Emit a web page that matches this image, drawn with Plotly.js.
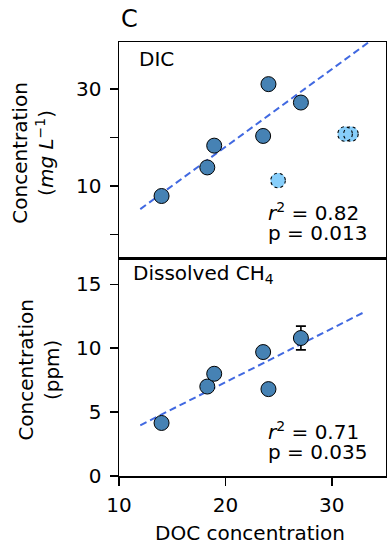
<!DOCTYPE html>
<html>
<head>
<meta charset="utf-8">
<script src="https://cdn.plot.ly/plotly-3.0.1.min.js"></script>
<style>html,body{margin:0;padding:0;background:#fff}#chart{width:387px;height:544px}</style>
</head>
<body>
<div id="chart"></div>
<script>
// DIC panel (included points)
var docDIC = [14.0, 18.3, 18.95, 23.55, 24.05, 27.1];
var dicValues = [7.9, 13.8, 18.3, 20.3, 31.0, 27.2];
// DIC panel (excluded points, light blue with dashed edge)
var docDICExcl = [24.95, 31.25, 31.8];
var dicExcl = [11.1, 20.7, 20.7];
// DIC trend line
var dicFitX = [12, 34];
var dicFitY = [5.2, 40.5];

// Dissolved CH4 panel
var docCH4 = [14.0, 18.3, 18.95, 23.55, 24.05, 27.1];
var ch4Values = [4.15, 7.0, 8.0, 9.7, 6.8, 10.8];
var ch4Err = [null, null, null, null, null, 0.93];
var ch4FitX = [12, 33];
var ch4FitY = [3.97, 12.8];

var xTicks = [10, 20, 30];
var dicLabelledTicks = [10, 30];
var dicUnlabelledTicks = [0, 20];
var ch4Ticks = [0, 5, 10, 15];

var FONT = 'DejaVu Sans, sans-serif';
var darkBlue = '#4682b4';
var lightBlue = '#87cefa';
var lineBlue = '#4169e1';

var traces = [
  {x: dicFitX, y: dicFitY, xaxis: 'x2', yaxis: 'y2', mode: 'lines',
   line: {color: lineBlue, width: 2, dash: '7px,4px'}, hoverinfo: 'skip'},
  {x: docDIC, y: dicValues, xaxis: 'x2', yaxis: 'y2', mode: 'markers',
   marker: {size: 15, color: darkBlue, line: {color: '#000', width: 1}}},
  {x: docDICExcl, y: dicExcl, xaxis: 'x2', yaxis: 'y2', mode: 'markers',
   marker: {size: 15, color: lightBlue, line: {width: 0}}},
  {x: ch4FitX, y: ch4FitY, xaxis: 'x', yaxis: 'y', mode: 'lines',
   line: {color: lineBlue, width: 2, dash: '7px,4px'}, hoverinfo: 'skip'},
  {x: docCH4, y: ch4Values, xaxis: 'x', yaxis: 'y', mode: 'markers',
   error_y: {type: 'data', array: ch4Err, visible: true, color: '#000', thickness: 1.6, width: 5},
   marker: {size: 15, color: darkBlue, line: {color: '#000', width: 1}}}
];

// dashed outlines for excluded points
var shapes = docDICExcl.map(function (xv, i) {
  return {type: 'circle', xref: 'x2', yref: 'y2', xsizemode: 'pixel', ysizemode: 'pixel',
    xanchor: xv, yanchor: dicExcl[i], x0: -7.3, x1: 7.3, y0: -7.3, y1: 7.3,
    line: {color: '#000', width: 1.1, dash: 'dot'}, fillcolor: 'rgba(0,0,0,0)', layer: 'above'};
});

var axisCommon = {showline: true, linecolor: '#000', linewidth: 1.5, mirror: true,
  showgrid: false, zeroline: false, ticks: 'outside', ticklen: 8, tickwidth: 1.5,
  tickcolor: '#000', tickfont: {family: FONT, size: 20, color: '#000'}};

var split = 218 / 434;
var layout = {
  width: 387, height: 544,
  margin: {l: 119, r: 1, t: 42, b: 68},
  paper_bgcolor: '#fff', plot_bgcolor: '#fff',
  showlegend: false,
  font: {family: FONT, size: 20, color: '#000'},
  xaxis: Object.assign({}, axisCommon, {domain: [0, 1], range: [10, 35.1], tickvals: xTicks, anchor: 'y', ticklabelstandoff: 2}),
  yaxis: Object.assign({}, axisCommon, {domain: [0, split], range: [0, 17.06], tickvals: ch4Ticks, anchor: 'x', ticklabelstandoff: 4}),
  xaxis2: Object.assign({}, axisCommon, {domain: [0, 1], range: [10, 35.1], ticks: '', showticklabels: false, anchor: 'y2', matches: 'x'}),
  yaxis2: Object.assign({}, axisCommon, {domain: [split, 1], range: [-4.9, 39.7], tickvals: dicLabelledTicks, anchor: 'x2', ticklabelstandoff: 4,
    minor: {tickvals: dicUnlabelledTicks, ticks: 'outside', ticklen: 8, tickwidth: 1.5, tickcolor: '#000', showgrid: false}}),
  shapes: shapes,
  annotations: [
    {text: 'C', xref: 'paper', yref: 'paper', x: 0.0, y: 1.053, xanchor: 'left', yanchor: 'middle', showarrow: false, font: {size: 24}},
    {text: 'DIC', xref: 'paper', yref: 'paper', x: 0.067, y: 0.961, xanchor: 'left', yanchor: 'middle', showarrow: false, font: {size: 20}},
    {text: '<i>r</i><sup>2</sup> = 0.82', xref: 'paper', yref: 'paper', x: 0.549, y: 0.5728, xanchor: 'left', yanchor: 'bottom', showarrow: false, font: {size: 20}},
    {text: 'p = 0.013', xref: 'paper', yref: 'paper', x: 0.549, y: 0.5267, xanchor: 'left', yanchor: 'bottom', showarrow: false, font: {size: 20}},
    {text: 'Dissolved CH<sub>4</sub>', xref: 'paper', yref: 'paper', x: 0.0438, y: 0.4643, xanchor: 'left', yanchor: 'middle', showarrow: false, font: {size: 20}},
    {text: '<i>r</i><sup>2</sup> = 0.71', xref: 'paper', yref: 'paper', x: 0.549, y: 0.0682, xanchor: 'left', yanchor: 'bottom', showarrow: false, font: {size: 20}},
    {text: 'p = 0.035', xref: 'paper', yref: 'paper', x: 0.549, y: 0.0221, xanchor: 'left', yanchor: 'bottom', showarrow: false, font: {size: 20}},
    {text: 'DOC concentration', xref: 'paper', yref: 'paper', x: 0.4906, y: -0.1305, xanchor: 'center', yanchor: 'middle', showarrow: false, font: {size: 20}},
    {text: 'Concentration<br>(<i>mg L</i><sup>−1</sup>)', xref: 'paper', yref: 'paper', x: -0.320, y: 0.744, xanchor: 'center', yanchor: 'middle', textangle: -90, showarrow: false, font: {size: 20}},
    {text: 'Concentration<br>(ppm)', xref: 'paper', yref: 'paper', x: -0.2978, y: 0.244, xanchor: 'center', yanchor: 'middle', textangle: -90, showarrow: false, font: {size: 20}}
  ]
};

Plotly.newPlot('chart', traces, layout, {displayModeBar: false, staticPlot: true});
</script>
</body>
</html>
